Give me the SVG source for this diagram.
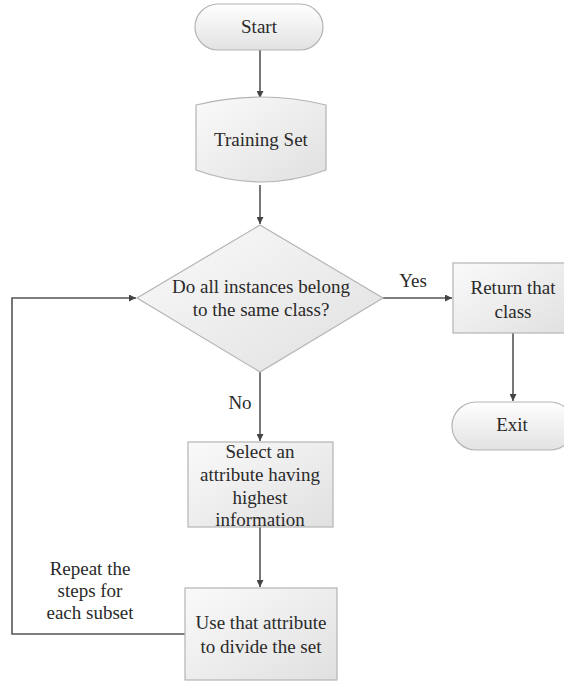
<svg xmlns="http://www.w3.org/2000/svg" width="564" height="682" viewBox="0 0 564 682">
  <style>
    .shape { stroke: #b4b4b4; stroke-width: 1.2; }
    .term { fill: url(#gTerm); }
    .box { fill: url(#gBox); }
    .txt { font-family: "Liberation Serif", "Times New Roman", serif; font-size: 19px; fill: #2a2a2a; text-anchor: middle; }
    .edge { fill: none; stroke: #555; stroke-width: 1.6; }
  </style>
  <defs>
    <linearGradient id="gTerm" x1="0" y1="0" x2="0" y2="1">
      <stop offset="0" stop-color="#ffffff"/>
      <stop offset="1" stop-color="#e2e2e2"/>
    </linearGradient>
    <linearGradient id="gBox" x1="0" y1="0" x2="1" y2="1">
      <stop offset="0" stop-color="#fafafa"/>
      <stop offset="1" stop-color="#e0e0e0"/>
    </linearGradient>
    <marker id="arrow" viewBox="0 0 10 10" refX="10" refY="5" markerWidth="7" markerHeight="7" markerUnits="userSpaceOnUse" orient="auto">
      <path d="M0,0 L10,5 L0,10 Z" fill="#444"/>
    </marker>
  </defs>
  <rect width="564" height="682" fill="#ffffff"/>

  <g id="connectors">
    <path class="edge" d="M260,50 V98" marker-end="url(#arrow)"/>
    <path class="edge" d="M260,185 V224" marker-end="url(#arrow)"/>
    <path class="edge" d="M383,298 H452" marker-end="url(#arrow)"/>
    <path class="edge" d="M513,333 V401" marker-end="url(#arrow)"/>
    <path class="edge" d="M260,372 V441" marker-end="url(#arrow)"/>
    <path class="edge" d="M260,527 V587" marker-end="url(#arrow)"/>
    <path class="edge" d="M185,634 H12 V298 H136" marker-end="url(#arrow)"/>
    <text class="txt" x="413" y="287">Yes</text>
    <text class="txt" x="240" y="409">No</text>
    <text class="txt" x="90" y="575">Repeat the</text>
    <text class="txt" x="90" y="597">steps for</text>
    <text class="txt" x="90" y="619">each subset</text>
  </g>

  <g id="start">
    <rect class="shape term" x="195" y="4" width="128" height="46" rx="23"/>
    <text class="txt" x="259" y="33">Start</text>
  </g>

  <g id="training-set">
    <path class="shape box" d="M196,105 Q261,89 326,105 V170 Q261,194 196,170 Z"/>
    <text class="txt" x="261" y="146">Training Set</text>
  </g>

  <g id="decision">
    <path class="shape box" d="M260,225 L383,298 L260,372 L137,298 Z"/>
    <text class="txt" x="261" y="293">Do all instances belong</text>
    <text class="txt" x="261" y="316">to the same class?</text>
  </g>

  <g id="return-class">
    <rect class="shape box" x="453" y="263" width="120" height="70"/>
    <text class="txt" x="513" y="294">Return that</text>
    <text class="txt" x="513" y="318">class</text>
  </g>

  <g id="exit">
    <rect class="shape term" x="452" y="402" width="122" height="48" rx="24"/>
    <text class="txt" x="512" y="431">Exit</text>
  </g>

  <g id="select-attribute">
    <rect class="shape box" x="188" y="442" width="145" height="85"/>
    <text class="txt" x="260" y="458">Select an</text>
    <text class="txt" x="260" y="481">attribute having</text>
    <text class="txt" x="260" y="504">highest</text>
    <text class="txt" x="260" y="526">information</text>
  </g>

  <g id="divide-set">
    <rect class="shape box" x="185" y="588" width="152" height="92"/>
    <text class="txt" x="261" y="629">Use that attribute</text>
    <text class="txt" x="261" y="653">to divide the set</text>
  </g>
</svg>
